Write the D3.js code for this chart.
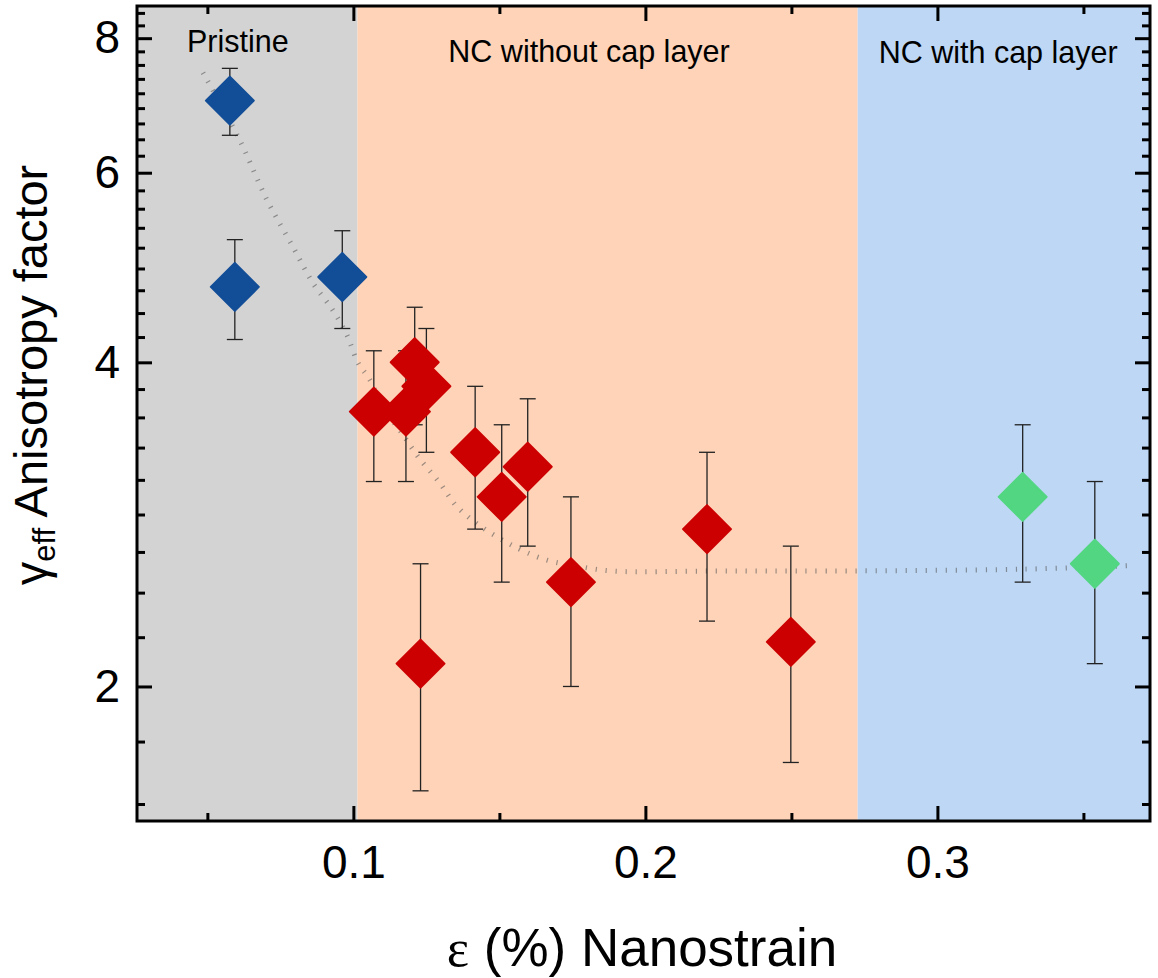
<!DOCTYPE html>
<html>
<head>
<meta charset="utf-8">
<script src="https://cdn.jsdelivr.net/npm/d3@7"></script>
<style>
  html, body { margin: 0; padding: 0; background: #fff; }
  svg { display: block; }
  text { font-family: "Liberation Sans", Arial, sans-serif; fill: #000; }
</style>
</head>
<body>
<svg id="chart" width="1158" height="978"></svg>
<script>
// Sample groups (background bands)
const bandLabels = ["Pristine", "NC without cap layer", "NC with cap layer"];
const bandStarts = [0.0259, 0.1014, 0.2727];
const bandEnds   = [0.1014, 0.2727, 0.3728];
const bandColors = ["#d3d3d3", "#fed3b7", "#bdd7f5"];
const bandTitleAt = [0.0604, 0.1807, 0.3208];

// Pristine samples
const pristineStrain = [0.0577, 0.0594, 0.0962];
const pristineGamma  = [7.0, 4.7, 4.8];
const pristineErr    = [0.5, 0.5, 0.5];

// Nanocomposites without cap layer
const ncStrain = [0.107, 0.118, 0.121, 0.125, 0.1417, 0.1508, 0.1597, 0.1745, 0.123, 0.2211, 0.2498];
const ncGamma  = [3.6, 3.6, 4.0, 3.8, 3.3, 3.0, 3.2, 2.5, 2.1, 2.8, 2.2];
const ncErr    = [0.5, 0.5, 0.5, 0.5, 0.5, 0.5, 0.5, 0.5, 0.5, 0.5, 0.5];

// Nanocomposites with cap layer
const capStrain = [0.3292, 0.3539];
const capGamma  = [3.0, 2.6];
const capErr    = [0.5, 0.5];

// Guide-to-the-eye trend curve
const trendStrain = [0.0485, 0.0611, 0.0704, 0.0793, 0.0861, 0.0930, 0.0978, 0.1015, 0.1057, 0.1101,
                     0.1159, 0.1221, 0.1296, 0.1354, 0.1433, 0.1560, 0.1663, 0.1755, 0.1889, 0.2231,
                     0.2622, 0.3289, 0.3669];
const trendGamma  = [7.43, 6.43, 5.66, 5.12, 4.74, 4.47, 4.24, 4.00, 3.85, 3.63,
                     3.46, 3.27, 3.09, 2.94, 2.82, 2.69, 2.62, 2.59, 2.56, 2.56,
                     2.56, 2.57, 2.59];

// Axis ticks
const xMajorTicks = [0.1, 0.2, 0.3];
const xMinorTicks = [0.05, 0.15, 0.25, 0.35];
const yMajorTicks = [2, 4, 6, 8];
const yTickLabels = ["2", "4", "6", "8"];

const xDomain = [0.0259, 0.3728];
const yDomain = [1.5, 8.57];

const svg = d3.select("#chart");
const plot = { left: 137, right: 1150, top: 6, bottom: 821 };

const x = d3.scaleLinear().domain(xDomain).range([plot.left, plot.right]);
const y = d3.scaleLog().domain(yDomain).range([plot.bottom, plot.top]);

// minor ticks: 8 between each pair of major ticks
const yMinorTicks = [];
for (let m = 0; m <= yMajorTicks.length; m++) {
  const lo = m === 0 ? yMajorTicks[0] - 2 : yMajorTicks[m - 1];
  const step = 2 / 9;
  for (let k = 1; k <= 8; k++) {
    const v = lo + k * step;
    if (v > yDomain[0] && v < yDomain[1]) yMinorTicks.push(v);
  }
}

// background bands
svg.append("g").selectAll("rect")
  .data(bandLabels.map((l, i) => ({ label: l, x0: bandStarts[i], x1: bandEnds[i], color: bandColors[i] })))
  .join("rect")
  .attr("x", d => x(d.x0))
  .attr("y", plot.top)
  .attr("width", d => x(d.x1) - x(d.x0))
  .attr("height", plot.bottom - plot.top)
  .attr("fill", d => d.color);

// band titles
const bandTitleY = [52, 62, 63];
svg.append("g").selectAll("text")
  .data(bandLabels)
  .join("text")
  .attr("x", (d, i) => x(bandTitleAt[i]))
  .attr("y", (d, i) => bandTitleY[i])
  .attr("text-anchor", "middle")
  .attr("font-size", 30.5)
  .text(d => d);

// trend curve
svg.append("path")
  .datum(trendStrain.map((s, i) => [s, trendGamma[i]]))
  .attr("fill", "none")
  .attr("stroke", "#5a5a5a")
  .attr("stroke-opacity", 0.6)
  .attr("stroke-width", 5)
  .attr("stroke-dasharray", "1.2 8.8")
  .attr("d", d3.line().x(d => x(d[0])).y(d => y(d[1])).curve(d3.curveCatmullRom));

const series = [
  { strain: pristineStrain, gamma: pristineGamma, err: pristineErr, color: "#124d97" },
  { strain: ncStrain, gamma: ncGamma, err: ncErr, color: "#cc0000" },
  { strain: capStrain, gamma: capGamma, err: capErr, color: "#52d681" }
];
const points = series.flatMap(s => s.strain.map((v, i) => ({
  x: v, y: s.gamma[i], e: s.err[i], color: s.color
})));

// error bars
const eb = svg.append("g").attr("stroke", "#222").attr("stroke-width", 1.3).attr("fill", "none");
const capW = 8;
points.forEach(p => {
  const cx = x(p.x), yt = y(p.y + p.e), yb = y(p.y - p.e);
  eb.append("line").attr("x1", cx).attr("x2", cx).attr("y1", yt).attr("y2", yb);
  eb.append("line").attr("x1", cx - capW).attr("x2", cx + capW).attr("y1", yt).attr("y2", yt);
  eb.append("line").attr("x1", cx - capW).attr("x2", cx + capW).attr("y1", yb).attr("y2", yb);
});

// diamond markers
const r = 24;
svg.append("g").selectAll("path")
  .data(points)
  .join("path")
  .attr("d", `M0,${-r}L${r},0L0,${r}L${-r},0Z`)
  .attr("transform", d => `translate(${x(d.x)},${y(d.y)})`)
  .attr("fill", d => d.color)
  .attr("stroke", d => d.color)
  .attr("stroke-width", 2)
  .attr("stroke-linejoin", "round");

// axes
const major = 15, minor = 8;
function styleAxis(g) {
  g.select(".domain").remove();
  g.selectAll(".tick line").attr("stroke", "#000").attr("stroke-width", 3);
  g.selectAll(".tick text").attr("font-size", 46).attr("font-family", "Liberation Sans, Arial, sans-serif");
}

svg.append("g").attr("transform", `translate(0,${plot.bottom})`)
  .call(d3.axisBottom(x).tickValues(xMajorTicks).tickSize(-major).tickPadding(20).tickFormat(d3.format(".1f")))
  .call(styleAxis)
  .call(g => g.selectAll(".tick text").attr("dy", "0.71em").attr("y", 24));
svg.append("g").attr("transform", `translate(0,${plot.bottom})`)
  .call(d3.axisBottom(x).tickValues(xMinorTicks).tickSize(-minor).tickFormat(""))
  .call(styleAxis);
svg.append("g").attr("transform", `translate(0,${plot.top})`)
  .call(d3.axisTop(x).tickValues(xMajorTicks).tickSize(-major).tickFormat(""))
  .call(styleAxis);
svg.append("g").attr("transform", `translate(0,${plot.top})`)
  .call(d3.axisTop(x).tickValues(xMinorTicks).tickSize(-minor).tickFormat(""))
  .call(styleAxis);

svg.append("g").attr("transform", `translate(${plot.left},0)`)
  .call(d3.axisLeft(y).tickValues(yMajorTicks).tickSize(-major).tickPadding(17)
    .tickFormat((d, i) => yTickLabels[i]))
  .call(styleAxis);
svg.append("g").attr("transform", `translate(${plot.left},0)`)
  .call(d3.axisLeft(y).tickValues(yMinorTicks).tickSize(-minor).tickFormat(""))
  .call(styleAxis);
svg.append("g").attr("transform", `translate(${plot.right},0)`)
  .call(d3.axisRight(y).tickValues(yMajorTicks).tickSize(-major).tickFormat(""))
  .call(styleAxis);
svg.append("g").attr("transform", `translate(${plot.right},0)`)
  .call(d3.axisRight(y).tickValues(yMinorTicks).tickSize(-minor).tickFormat(""))
  .call(styleAxis);

// frame
svg.append("rect")
  .attr("x", plot.left).attr("y", plot.top)
  .attr("width", plot.right - plot.left).attr("height", plot.bottom - plot.top)
  .attr("fill", "none").attr("stroke", "#000").attr("stroke-width", 3);

// axis titles
const xTitle = svg.append("text")
  .attr("x", 642).attr("y", 966)
  .attr("text-anchor", "middle")
  .attr("font-size", 53);
xTitle.append("tspan").attr("font-family", "Liberation Serif, Times New Roman, serif").text("ε");
xTitle.append("tspan").text(" (%) Nanostrain");

const yTitle = svg.append("text")
  .attr("transform", "translate(47,375) rotate(-90)")
  .attr("text-anchor", "middle")
  .attr("font-size", 47);
yTitle.append("tspan").text("γ");
yTitle.append("tspan").attr("font-size", 31).attr("dy", 8).text("eff");
yTitle.append("tspan").attr("dy", -8).text(" Anisotropy factor");
</script>
</body>
</html>
